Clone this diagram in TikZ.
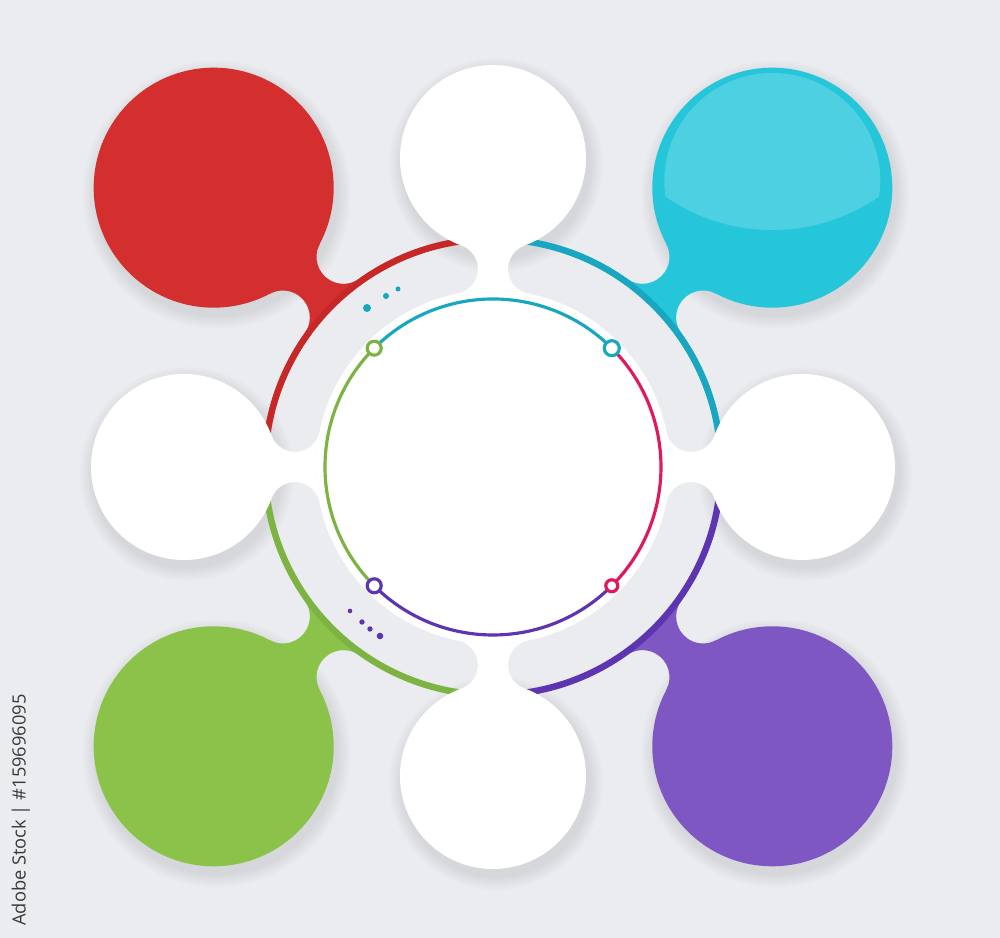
\documentclass[tikz,border=0pt]{standalone}
\usepackage{fontspec}
\newfontfamily\stockfont{Open Sans}
\usetikzlibrary{calc}
\definecolor{bgcol}{RGB}{234,236,240}
\definecolor{redfill}{RGB}{211,47,47}
\definecolor{redline}{RGB}{198,40,40}
\definecolor{cyanfill}{RGB}{38,198,218}
\definecolor{cyanlight}{RGB}{77,208,225}
\definecolor{cyanline}{RGB}{24,166,192}
\definecolor{greenfill}{RGB}{139,195,74}
\definecolor{greenline}{RGB}{124,179,66}
\definecolor{purplefill}{RGB}{126,87,194}
\definecolor{purpleline}{RGB}{94,53,177}
\definecolor{pinkline}{RGB}{224,25,90}
\definecolor{textgrey}{RGB}{58,58,58}
\newcommand\softshadow[2]{\foreach \s in {2,4,...,14}{\fill[black, opacity=0.012] #1 ++(3,-7) circle[radius=#2+\s];}}
\newcommand\colorneck[2]{\fill[#2, rotate=#1] (9.57:231) arc[start angle=189.57, end angle=343.03, radius=27]
    -- (280.23,-35.01) arc[start angle=16.97, end angle=170.43, radius=27]
    arc[start angle=-9.57, end angle=9.57, radius=231] -- cycle;}
\newcommand\whiteneck[1]{\fill[white, rotate=#1] (11.43:177) arc[start angle=191.43, end angle=340.16, radius=25]
    -- (221.52,-31.57) arc[start angle=19.84, end angle=168.57, radius=25]
    arc[start angle=-11.43, end angle=11.43, radius=177] -- cycle;}

\begin{document}
\begin{tikzpicture}[
    scale=0.01,
    outer arc/.style={line width=1.85pt},
    inner arc/.style={line width=0.9pt},
    marker/.style={fill=white, line width=0.9pt},
]
    \useasboundingbox (-493,-471) rectangle (507,467);
    \fill[bgcol] (-493,-471) rectangle (507,467);
    \softshadow{(0:309)}{93}
    \softshadow{(90:309)}{93}
    \softshadow{(180:309)}{93}
    \softshadow{(270:309)}{93}
    \softshadow{(45:395)}{120}
    \softshadow{(135:395)}{120}
    \softshadow{(225:395)}{120}
    \softshadow{(315:395)}{120}
    \colorneck{45}{cyanfill}
    \colorneck{135}{redfill}
    \colorneck{225}{greenfill}
    \colorneck{315}{purplefill}
    \draw[outer arc, cyanline] (0:228) arc[start angle=0, end angle=90, radius=228];
    \draw[outer arc, redline] (90:228) arc[start angle=90, end angle=180, radius=228];
    \draw[outer arc, greenline] (180:228) arc[start angle=180, end angle=270, radius=228];
    \draw[outer arc, purpleline] (270:228) arc[start angle=270, end angle=360, radius=228];
    \whiteneck{0}
    \whiteneck{90}
    \whiteneck{180}
    \whiteneck{270}
    \fill[white] (0:309) circle[radius=93];
    \fill[white] (90:309) circle[radius=93];
    \fill[white] (180:309) circle[radius=93];
    \fill[white] (270:309) circle[radius=93];
    \fill[redfill] (135:395) circle[radius=120];
    \fill[cyanfill] (45:395) circle[radius=120];
    \fill[greenfill] (225:395) circle[radius=120];
    \fill[purplefill] (315:395) circle[radius=120];
    \begin{scope}
        \clip (279.3,286) circle[radius=108];
        \fill[cyanlight] (279.3,424) circle[radius=187];
    \end{scope}
    \fill[white] (0,0) circle[radius=177];
    \draw[inner arc, cyanline] (45:168) arc[start angle=45, end angle=135, radius=168];
    \draw[inner arc, greenline] (135:168) arc[start angle=135, end angle=225, radius=168];
    \draw[inner arc, purpleline] (225:168) arc[start angle=225, end angle=315, radius=168];
    \draw[inner arc, pinkline] (315:168) arc[start angle=315, end angle=405, radius=168];
    \draw[marker, draw=cyanline] (45:168) circle[radius=7.5];
    \draw[marker, draw=greenline] (135:168) circle[radius=7];
    \draw[marker, draw=purpleline] (225:168) circle[radius=7];
    \draw[marker, draw=pinkline] (315:168) circle[radius=6];
    \fill[cyanline] (-126,159) circle[radius=4];
    \fill[cyanline] (-107,171) circle[radius=3];
    \fill[cyanline] (-95,178) circle[radius=2.5];
    \fill[purpleline] (-143,-144) circle[radius=2.3];
    \fill[purpleline] (-131,-155) circle[radius=2.7];
    \fill[purpleline] (-123,-162) circle[radius=2.7];
    \fill[purpleline] (-113,-169) circle[radius=3.3];
    \node[rotate=90, text=textgrey, font=\stockfont\fontsize{5.2}{6}\selectfont] (stocklabel) at (-472,-343) {Adobe Stock | \#159696095};
\end{tikzpicture}
\end{document}
